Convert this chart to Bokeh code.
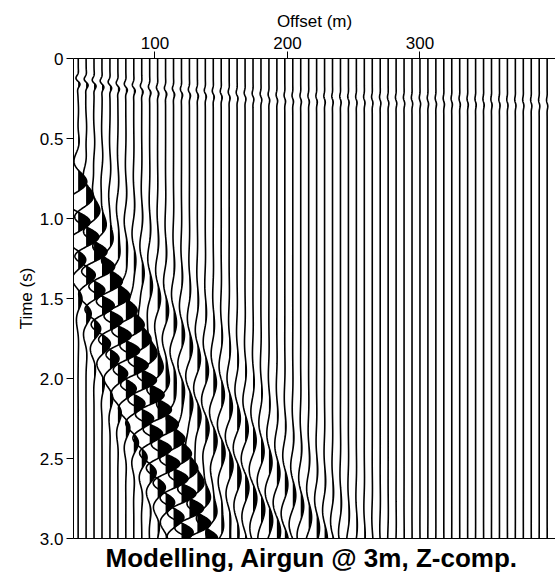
import numpy as np
from bokeh.plotting import figure
from bokeh.models import Range1d, FixedTicker, CustomJSTickFormatter, Title, LinearAxis
from bokeh.embed import file_html
from bokeh.resources import INLINE

# ---------------- data read from the section ----------------
# receiver offsets (m), one trace each
offsets = [42, 48, 54, 60, 66, 72, 78, 84, 90, 96, 102, 108, 114, 120, 126,
           132, 138, 144, 150, 156, 162, 168, 174, 180, 186, 192, 198, 204,
           210, 216, 222, 228, 234, 240, 246, 252, 258, 264, 270, 276, 282,
           288, 294, 300, 306, 312, 318, 324, 330, 336, 342, 348, 354, 360,
           366, 372, 378, 384, 390, 396]
offset_ticks = [100, 200, 300]
time_ticks = [0.0, 0.5, 1.0, 1.5, 2.0, 2.5, 3.0]

# slow interface-wave package: envelope centre time (s) and peak amplitude
# (in trace spacings) picked against offset (m)
a_off = [40, 60, 90, 130, 170]
a_time = [1.0, 1.5, 2.1, 3.0, 3.9]
a_amp = [1.5, 1.8, 1.9, 1.9, 1.8]
a_freq = 4.0        # Hz
a_vphase = 65.0     # m/s
a_phase0 = 0.37     # s
a_width = 0.27      # s

# low-frequency wavetrain ahead of the package
b_off = [40, 100, 160, 230, 300, 400]
b_time = [1.0, 1.75, 2.5, 3.3, 4.1, 5.3]
b_amp = [0.25, 0.45, 0.5, 0.45, 0.3, 0.15]
b_freq = 2.7
b_width = 0.42

# early water-borne arrival (tiny kinks)
c_off = [40, 100, 200, 400]
c_time = [0.14, 0.2, 0.25, 0.28]
c_amp = [0.35, 0.2, 0.12, 0.1]
c_freq = 10.0
c_width = 0.03

trace_spacing = 6.0
clip = 2.0
dt = 0.004
# -------------------------------------------------------------

t = np.arange(0.0, 3.0 + dt / 2, dt)

p = figure(width=555, height=580, output_backend="svg", toolbar_location=None,
           x_range=Range1d(38.5, 402.3), y_range=Range1d(3.0, 0.0),
           x_axis_location="above", min_border_left=73, min_border_right=0,
           min_border_top=58, min_border_bottom=42)
p.outline_line_color = None
p.grid.visible = False
p.background_fill_color = "white"
p.border_fill_color = "white"

for off in offsets:
    ta = np.interp(off, a_off, a_time)
    aa = np.interp(off, a_off, a_amp)
    sa = aa * np.exp(-0.5 * ((t - ta) / a_width) ** 2) * \
        np.cos(2 * np.pi * a_freq * (t - off / a_vphase - a_phase0))
    tb = np.interp(off, b_off, b_time)
    ab = np.interp(off, b_off, b_amp)
    sb = ab * np.exp(-0.5 * ((t - tb) / b_width) ** 2) * \
        np.sin(2 * np.pi * b_freq * (t - tb))
    tc = np.interp(off, c_off, c_time)
    ac = np.interp(off, c_off, c_amp)
    sc = ac * np.exp(-0.5 * ((t - tc) / c_width) ** 2) * \
        np.sin(2 * np.pi * c_freq * (t - tc))
    s = np.clip(sa + sb + sc, -clip, clip)
    x = off + s * trace_spacing
    base = np.full_like(t, float(off))
    p.harea(x1=base, x2=np.maximum(x, base), y=t, fill_color="black",
            fill_alpha=1.0)
    p.line(x, t, line_color="black", line_width=1.6)

font = "Liberation Sans"

xa = p.xaxis[0]
xa.ticker = FixedTicker(ticks=offset_ticks)
xa.axis_label = "Offset (m)"
xa.minor_tick_line_color = None
xa.major_tick_in = 0
xa.major_tick_out = 7
xa.major_label_standoff = 3
xa.axis_label_standoff = 3
xa.major_label_text_font = font
xa.major_label_text_font_size = "17px"
xa.major_label_text_color = "black"
xa.axis_label_text_font = font
xa.axis_label_text_font_size = "17px"
xa.axis_label_text_font_style = "normal"
xa.axis_label_text_color = "black"
xa.axis_line_color = "black"
xa.major_tick_line_color = "black"

ya = p.yaxis[0]
ya.ticker = FixedTicker(ticks=time_ticks)
ya.formatter = CustomJSTickFormatter(code="return tick == 0 ? '0' : tick.toFixed(1);")
ya.axis_label = "Time (s)"
ya.minor_tick_line_color = None
ya.major_tick_in = 0
ya.major_tick_out = 7
ya.major_label_standoff = 3
ya.axis_label_standoff = 1
ya.major_label_text_font = font
ya.major_label_text_font_size = "17px"
ya.major_label_text_color = "black"
ya.axis_label_text_font = font
ya.axis_label_text_font_size = "17px"
ya.axis_label_text_font_style = "normal"
ya.axis_label_text_color = "black"
ya.axis_line_color = "black"
ya.major_tick_line_color = "black"

bottom = LinearAxis(ticker=FixedTicker(ticks=[]), major_tick_line_color=None,
                    minor_tick_line_color=None, major_label_text_font_size="0px",
                    axis_line_color="black")
p.add_layout(bottom, "below")

p.add_layout(Title(text="Modelling, Airgun @ 3m, Z-comp.", align="left", offset=32,
                   standoff=4, text_font=font, text_font_size="26px",
                   text_font_style="bold", text_color="black"), "below")

open("out.html", "w").write(file_html(p, INLINE))
